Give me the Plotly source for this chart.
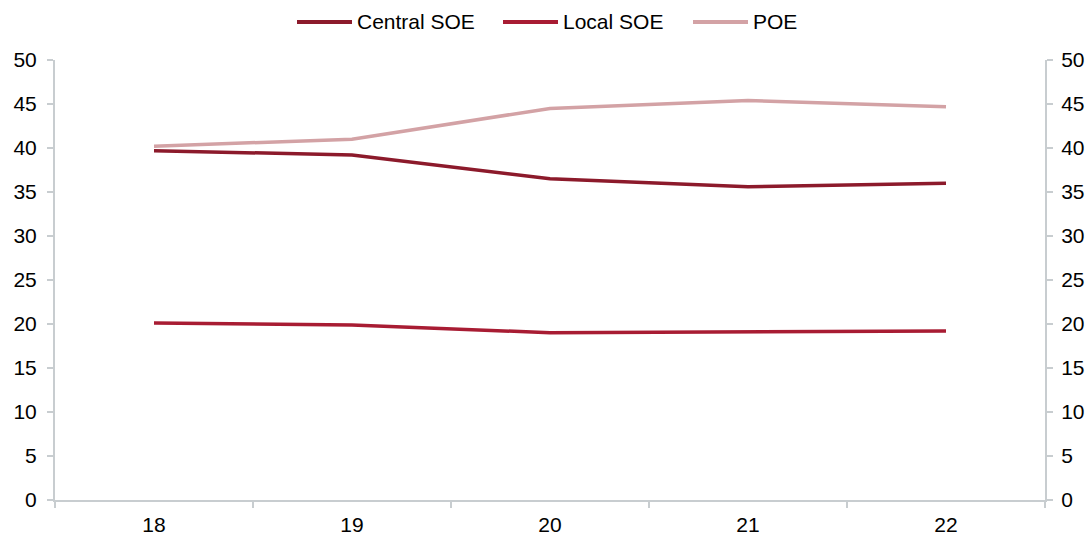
import plotly.graph_objects as go

# Share by ownership type, by year
years = ["18", "19", "20", "21", "22"]
central_soe = [39.7, 39.2, 36.5, 35.6, 36.0]
local_soe = [20.1, 19.9, 19.0, 19.1, 19.2]
poe = [40.2, 41.0, 44.5, 45.4, 44.7]

series = [
    ("Central SOE", central_soe, "#8c1a2b"),
    ("Local SOE", local_soe, "#a81c33"),
    ("POE", poe, "#d3a2a5"),
]

FONT = "Liberation Sans, Arial, sans-serif"
AXIS = "#c8cdd0"
FS = 21

W, H = 1089, 536
ML, MR, MT, MB = 55, 44, 60, 36
PW, PH = W - ML - MR, H - MT - MB

fig = go.Figure()
for name, vals, color in series:
    fig.add_trace(go.Scatter(
        x=years, y=vals, name=name, mode="lines",
        line=dict(color=color, width=3.5),
        showlegend=False, hoverinfo="x+y+name",
    ))

# Invisible copy on the secondary axis so the right scale is rendered
fig.add_trace(go.Scatter(
    x=years, y=local_soe, yaxis="y2", mode="lines",
    line=dict(color="rgba(0,0,0,0)"), showlegend=False, hoverinfo="skip",
))

# Legend drawn above the plot: a line sample followed by the series name
legend_left_px = [297, 503, 693]
sample_len_px = 55
legend_y = (PH + MT - 22) / PH
for (name, _, color), left in zip(series, legend_left_px):
    x0 = (left - ML) / PW
    x1 = (left + sample_len_px - ML) / PW
    fig.add_shape(type="line", xref="paper", yref="paper",
                  x0=x0, x1=x1, y0=legend_y, y1=legend_y,
                  line=dict(color=color, width=4))
    fig.add_annotation(xref="paper", yref="paper", x=x1, y=legend_y,
                       xanchor="left", yanchor="middle", xshift=3,
                       text=name, showarrow=False,
                       font=dict(family=FONT, size=FS, color="#000000"))

yaxis_common = dict(
    range=[0, 50], dtick=5, showgrid=False, zeroline=False,
    showline=True, linecolor=AXIS, linewidth=2,
    ticks="outside", ticklen=6, tickwidth=2, tickcolor=AXIS,
    tickfont=dict(family=FONT, size=FS, color="#000000"),
    fixedrange=True, automargin=False,
)

fig.update_layout(
    width=W, height=H,
    margin=dict(l=ML, r=MR, t=MT, b=MB),
    paper_bgcolor="white", plot_bgcolor="white",
    font=dict(family=FONT, size=FS, color="#000000"),
    xaxis=dict(
        type="category", range=[-0.5, 4.5], showgrid=False,
        showline=True, linecolor=AXIS, linewidth=2,
        ticks="outside", tickson="boundaries", ticklen=6, tickwidth=2,
        tickcolor=AXIS, tickfont=dict(family=FONT, size=FS, color="#000000"),
        automargin=False, ticklabelstandoff=5,
    ),
    yaxis=dict(side="left", ticklabelstandoff=6, **yaxis_common),
    yaxis2=dict(side="right", overlaying="y", ticklabelstandoff=4,
                **yaxis_common),
    showlegend=False,
)

fig.write_html("out.html")
